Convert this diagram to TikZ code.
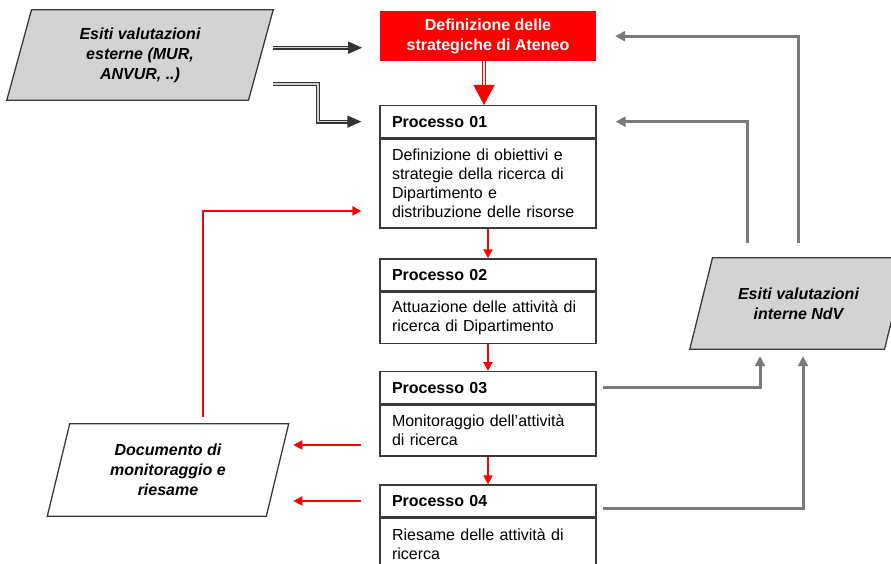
\documentclass[tikz,border=0pt]{standalone}
\usepackage{fontspec}
\setmainfont{Liberation Sans}
\usetikzlibrary{arrows.meta,backgrounds,calc}
\definecolor{boxline}{HTML}{3A3A3A}
\definecolor{arrgray}{HTML}{7A7A7A}
\definecolor{paragray}{HTML}{D3D3D3}
\definecolor{myred}{HTML}{FF0000}
\begin{document}
\begin{tikzpicture}[x=1pt,y=-1pt,
  hdr/.style={draw=boxline, line width=1.3pt, minimum width=216pt, minimum height=32pt,
    text width=192pt, inner xsep=12pt, inner ysep=0pt, align=left, anchor=north,
    font=\fontsize{16}{19}\selectfont\bfseries},
  bodyb/.style={draw=boxline, line width=1.3pt, minimum width=216pt,
    text width=192pt, inner xsep=12pt, inner ysep=0pt, align=left, anchor=north,
    font=\fontsize{16}{19}\selectfont},
  stratbox/.style={fill=myred, minimum width=216pt, minimum height=50pt, inner sep=0pt,
    text=white, align=center, anchor=north, font=\fontsize{16}{20}\selectfont\bfseries},
  paranode/.style={inner sep=0pt, align=center, font=\fontsize{16}{20}\selectfont\bfseries\itshape},
  parashape/.style={draw=boxline, line width=1.3pt, line join=miter},
  redarr/.style={draw=myred, line width=2pt, -{Triangle[length=9pt,width=9pt]}},
  grayarr/.style={draw=arrgray, line width=3pt, -{Triangle[length=10pt,width=10pt]}},
  dblarr/.style={draw=black!80, double=gray!35, double distance=1.6pt, line width=1.3pt,
    -{Triangle[length=14pt,width=12pt]}},
  reddbl/.style={draw=myred, double=white, double distance=1.6pt, line width=1.3pt,
    -{Triangle[length=20pt,width=21pt]}}
]
\useasboundingbox (0,0) rectangle (891,564);

% strategic box
\node[stratbox] (strat) at (488,11) {Definizione delle\\strategiche di Ateneo};

% process boxes
\node[hdr] (p1h) at (488,105) {Processo 01};
\node[bodyb, minimum height=89pt] (p1b) at (p1h.south) {Definizione di obiettivi e\\strategie della ricerca di\\Dipartimento e\\distribuzione delle risorse};
\node[hdr] (p2h) at (488,258.3) {Processo 02};
\node[bodyb, minimum height=51pt] (p2b) at (p2h.south) {Attuazione delle attività di\\ricerca di Dipartimento};
\node[hdr] (p3h) at (488,371) {Processo 03};
\node[bodyb, minimum height=51pt] (p3b) at (p3h.south) {Monitoraggio dell’attività\\di ricerca};
\node[hdr] (p4h) at (488,484.3) {Processo 04};
\node[bodyb, minimum height=51pt] (p4b) at (p4h.south) {Riesame delle attività di\\ricerca};

% parallelograms
\node[paranode, minimum width=266pt, minimum height=90pt] (ext) at (140,55) {Esiti valutazioni\\esterne (MUR,\\ANVUR, ..)};
\node[paranode, minimum width=241pt, minimum height=92pt] (doc) at (168,470) {Documento di\\monitoraggio e\\riesame};
\node[paranode, minimum width=217pt, minimum height=91pt] (ndv) at (798.5,303.5) {Esiti valutazioni\\interne NdV};

\begin{scope}[on background layer]
\draw[parashape, fill=paragray] ([xshift=24.7pt]ext.north west) -- (ext.north east) -- ([xshift=-24.7pt]ext.south east) -- (ext.south west) -- cycle;
\draw[parashape, fill=white] ([xshift=22.4pt]doc.north west) -- (doc.north east) -- ([xshift=-22.4pt]doc.south east) -- (doc.south west) -- cycle;
\draw[parashape, fill=paragray] ([xshift=22.7pt]ndv.north west) -- (ndv.north east) -- ([xshift=-22.7pt]ndv.south east) -- (ndv.south west) -- cycle;
\end{scope}

% external arrows
\draw[dblarr] ([yshift=7.3pt]ext.east) -- ++(89,0);
\draw[dblarr] ([yshift=-29pt]ext.east) -- ++(45,0) |- ([xshift=-18pt]p1h.west);

% red flow
\draw[reddbl] ([xshift=-4pt]strat.south) -- ([xshift=-4pt]p1h.north);
\draw[redarr] (p1b.south) -- (p2h.north);
\draw[redarr] (p2b.south) -- (p3h.north);
\draw[redarr] (p3b.south) -- (p4h.north);
\draw[redarr] ([xshift=-18pt,yshift=-14.5pt]p3b.west) -- ++(-68,0);
\draw[redarr] ([xshift=-18pt]p4h.west) -- ++(-68,0);
\draw[redarr] ([xshift=35pt,yshift=7pt]doc.north) |- ([xshift=-18pt,yshift=-27.5pt]p1b.west);

% gray feedback
\draw[grayarr] ([xshift=-51.5pt,yshift=15pt]ndv.north) |- ([xshift=19pt]p1h.east);
\draw[grayarr] ([yshift=15pt]ndv.north) |- ([xshift=19pt]strat.east);
\draw[grayarr] ([xshift=6pt]p3h.east) -| ([xshift=-38.5pt,yshift=-7pt]ndv.south);
\draw[grayarr] ([xshift=6pt,yshift=-8pt]p4h.east) -| ([xshift=4.5pt,yshift=-7pt]ndv.south);
\end{tikzpicture}
\end{document}
